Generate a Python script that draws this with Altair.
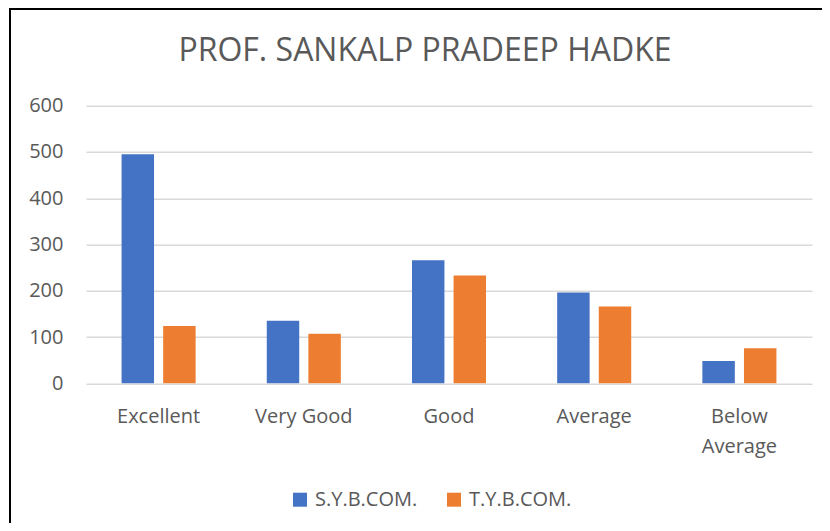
import altair as alt
import pandas as pd

categories = ["Excellent", "Very Good", "Good", "Average", "Below Average"]
series = ["S.Y.B.COM.", "T.Y.B.COM."]
sy_values = [495, 135, 266, 196, 48]
ty_values = [124, 107, 233, 166, 76]
colors = ["#4472C4", "#ED7D31"]
y_ticks = [0, 100, 200, 300, 400, 500, 600]

rows = []
for c, s, t in zip(categories, sy_values, ty_values):
    rows.append({"category": c, "series": series[0], "value": s})
    rows.append({"category": c, "series": series[1], "value": t})
df = pd.DataFrame(rows)

FONT = "Open Sans"
GREY = "#595959"

bars = alt.Chart(df).mark_bar().encode(
    x=alt.X(
        "category:N",
        sort=categories,
        scale=alt.Scale(paddingInner=0.49, paddingOuter=0.245),
        axis=alt.Axis(
            title=None,
            labelAngle=0,
            labelFont=FONT,
            labelFontSize=20,
            labelColor=GREY,
            labelPadding=23,
            labelLineHeight=30,
            labelExpr="datum.label == 'Below Average' ? ['Below', 'Average'] : datum.label",
            ticks=False,
            domain=False,
            grid=False,
        ),
    ),
    xOffset=alt.XOffset(
        "series:N",
        sort=series,
        scale=alt.Scale(paddingInner=0.22, paddingOuter=0),
    ),
    y=alt.Y(
        "value:Q",
        scale=alt.Scale(domain=[0, 600], nice=False),
        axis=alt.Axis(
            title=None,
            values=y_ticks,
            labelFont=FONT,
            labelFontSize=20,
            labelColor=GREY,
            labelPadding=23,
            ticks=False,
            domain=False,
            grid=True,
            gridColor="#d9d9d9",
            gridWidth=1.5,
        ),
    ),
    color=alt.Color(
        "series:N",
        sort=series,
        scale=alt.Scale(domain=series, range=colors),
        legend=alt.Legend(
            title=None,
            orient="none",
            direction="horizontal",
            legendX=204,
            legendY=384,
            symbolType="square",
            symbolSize=196,
            symbolStrokeWidth=0,
            labelFont=FONT,
            labelFontSize=20,
            labelColor=GREY,
            labelOffset=5,
            columnPadding=26,
        ),
    ),
)

frame = alt.Chart(pd.DataFrame({"a": [0]})).mark_rect(
    fill=None, stroke="black", strokeWidth=2
).encode(
    x=alt.value(-76),
    y=alt.value(-96.7),
    x2=alt.value(800),
    y2=alt.value(500),
)

chart = alt.layer(frame, bars).properties(
    width=726,
    height=277.6,
    autosize=alt.AutoSizeParams(type="none"),
    padding={"left": 78, "top": 97.7, "right": 10, "bottom": 139.7},
    title=alt.Title(
        "PROF. SANKALP PRADEEP HADKE",
        font=FONT,
        fontSize=32,
        fontWeight="normal",
        color=GREY,
        anchor="middle",
        frame="group",
        baseline="alphabetic",
        dx=-24,
        offset=-85,
    ),
).configure_view(stroke=None)

chart.save("out.html", embed_options={"renderer": "svg", "actions": False})
